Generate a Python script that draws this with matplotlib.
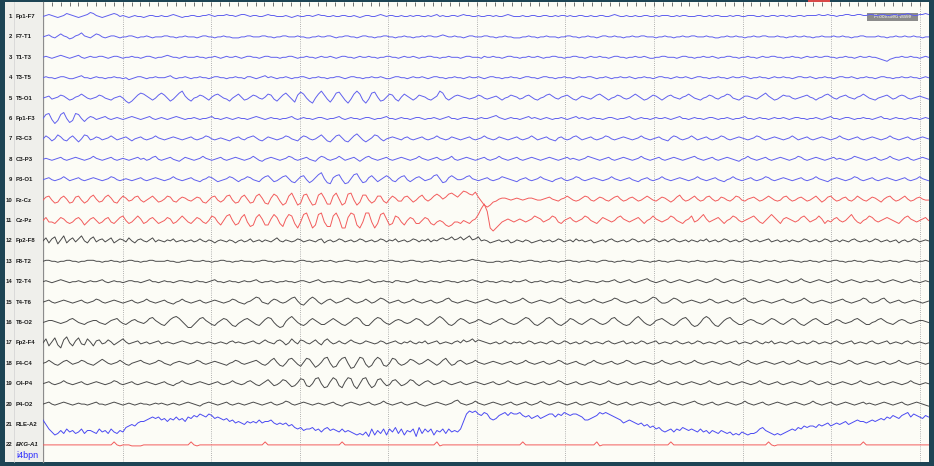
import numpy as np
import matplotlib.pyplot as plt
from matplotlib.patches import Rectangle

# one character = one sample (about 3 px apart over the 10 s page),
# 'm' is the channel baseline, each letter up/down = one unit (see gains)
# groups of 10 samples just to make the strings easier to read
fp1_f7 = ("mnonmlmnpo nmlmnoqpnm lmnopomnml mnmmlmnnmm nmmnonmlmm nnmmnnonmn nnonnmnoon mnnmmnonnm mmnmlmnmmn nmnonnmmnm "
          "mnnmmnmlmn nmmnonmnnm mnmmnmnnmm nmnomnmmnn mnonnmmnmm nnmnmmnonm mmnmmnnmmn nmmnmnnmnm mnnmmnmmnn mmnonmmnmm "
          "nmmnnmmnmn nnmmnmnnmm mnnmmnmnnm mmnmnnmmnn nmmnmmnnmn nmnmmnnmnn nnonnonnmn noonnoonno onnoonnoon ooponnoopo")
f7_t1 = ("mnomlnpnmk lnoqnmlnpo mlmnnmlmmn nmlmmnmlmm mnnmmlmmnm mmlmnnmmlm mnmmlllmmn nmmmnnmmlm mnnmmmnmml lmmnmmnnml "
         "mmnnmmlmnn mmlmmnnmml mmnmmlmmnm nnmmnonmmn mmlmnnmmmn nmmlmmnmml llmmnmmlmm nmmmlmmnnm mlmmnmmlmn nmmnmmlmmn "
         "mmnnmmmlmm nmmlmmnmmn nmmmnmmllm mnmmnmmlmm nmmnnmmmnm mlmmnmmnmm lmmnmmmnmm nmmlmmnnmm mmnmmlmmnm mnmmnmmlmm")
t1_t3 = ("mnmlmnonml mnomlmnmmn nmlmnnmlmm nmmlmnnmlm mnonmmlmnm mmnmmlmmnm lmnmmnmlmn nmmlmnnmmm lmmnnmlmmn mmlmnmmnml "
         "mnnmmlmnmm nmmlmmnnmm lmnmmnmlmm nnmmlmmnmm mlmnnmmmln mmnmmlmnnm mlmmnmmnml mmnnmmlmmn nmmlmnmmnm mlmnnmmlmm "
         "nmmnmllmmn nmmmlmnnmm lmmnmmnmlm mnnmmlmmnm mlmnmmnnmm lmmnmmlmnm mnmmnnmmlm mnmmlmnmmn mmlkjiklmm nmmnmmlmnm")
t3_t5 = ("mnmmlmnnml lmnommlmnm mlmmnmmlmk lmnnmlmmnm mmnomlmmnm lmmnmmlmnn mmlmmnmmln nmlmnomnml mmnmlmmnnm lmmnmmlmmn "
         "nmlmnnmmlm mnmmnmllmn nmmlmnmmnm lmnnmmlmmn mmlmnmmnml mnnmmlmmnm mlmnnmmlmn nmmlmmnmml mnmmnnmlmm nmlmmnmmnm "
         "lmmnmmlmnn mmlmnmmnml mnnmmlmmnm mlmnmmnnml mmnmmlmnmm nmmlmnnmmn mlmmnmmlmn nmmnmlmmnm mlmnnmmlmm nmmnmmlmnm")
t5_o1 = ("mnolmnpomk lnoqomlmnp omlkmnomjh jmprqomkmp rpmjlortol jmnpomknpq omljmoqnkl npomlnqplj mprolipsqm jhmqtplimr "
         "sokhlqtqkh lrsnjknqpl jnqomkmpon lkmotrmkmo ponmlmnpom lmnomkmnpo nlmopnlkmn pqomlnopnl kmonmlnpqo mkmnpomlmo "
         "qomklnpomk mopnmlnoqo mlkmnpomln oqpmlkmoon mlnpromkln poomlmnopn mkmnpqomln opnmlnoqom lkmnopnlmo pomlmnonml")
fp1_f3 = ("mqrlhkqsmi krqmjmonlm nomlmnmlmn onmlmnomlm nmlmnonmlm mnmlmmnomm lmnmlmnmml mnonmlmnmm lmmnomlmnm mlmnnmlmmn "
          "omlmnmmlmn nmlmmnomml mnmmlmnnml mmnmlmnomm lmnnmmlmnm mnopnmlmnm mlmnomnmlm nmlmmnmlmn omnmlmnmml mnnmlmmnom "
          "lmnmmlmnmm nmlmnommlm nmmlmnnmlm mnmlmmnomm lmnmmlmnmm nmlmnnmmlm mnmlmnomml mnnmlmmnmm lmnommlmnm mlmnmmlmnm")
f3_c3 = ("mpnkmqolkn pmjmqplmon lmnpnlmnom kmnomlmnpn mlmnonmlmn omlmnpomlm nmlkmnomln opnlkmonml mnpomlknpo mlmoqnkjmp "
         "qnkjmprolj lnqpmkmnon mlnomlmnom lmnpnmlmon mlmnomlmnp nmlmonmlmn omlmnpnlmn omlknomlmo pnlmnomlmn pomlmnonml "
         "mnpnmlmnom lknpomlmnp nlmnomlmnp omlmnonmlm npomlmnonm lmnpnlmnom lmnonmlmnp nmlmnomlmn onmlmnpnml mnomlmnonm")
c3_p3 = ("mnmlmnomlm nonmlmnpnm lmnomlmnml mnomnlmopm lmnomlkmon mlmnpnmlmn omlmnonmlm npnlkmnonm lmnpomlmno mlknpomlmn "
         "pnlmnomkmo pnmlmnomlm nonmlmnpnm lmnomlmnpm lmnonmlmno mlmnpnmlmn omlmnonmlm nonmlmnomn mlmnponmlm nomlmnonml "
         "mnpnmlmnom lmnonmlmno pnmlmnomlm nonmlkmnpn mlmnomlmno nmlmnpomlm nonmlmnomn mlmnponmlm nomlmnpnml mnomlmnonm")
p3_o1 = ("mnomlmnpnl mnomlmnonm lmnpomlmnm lmnomlmnon mlmnpnmlmn omlkmnpomk lmnpomkmnp omlknpqnkl npqnkjmpqm jlortnjioq "
         "rmijnrsnjk oqnkmoqolk npqmkmopnl mnqrnjkoqo mmnpqnmlmn omlmnponml kmnomlmnpn mlkmnomlmn pomlmnonml mnpnmlmnom "
         "lkmnomlmnp nmlmnonmlm npnmlmnoml kmnpnmlmno mlmnpomlmn onmlmnomlm npnmlkmnon mlmnpomlmn omlmnonmlm nomlmnpnml")
fz_cz = ("mpqmjkoqnj kpqmjlprnk lprokjnqol mpqmkmoqnk lnqplknpom lnpokjmpqm kmqrmjkprn jkqsojiosq lhjqtnhjrs mhirtoiiqt "
         "nhjstmhkrr mjlqqljnqo llpqnkmprn lnqsqnpstr psvusruplh fhklnoonmn onmnoonmmn opnmlnoqom lmoqpmlnpo mlnpqnlmop "
         "nlmoqomlnp omkmprnlmo qnlmpqnlmp omlnqpmlno pnlmoqomlm pqnlmopnlm oqnkmpqnlm opmlnqomln pomknpqnlm oqnlmopnmm")
cz_pz = ("mollkmonlk lnomjlnomk lnolkmopmk lnpnklnomk lmonklnpnl kmonlkmpol jmpqmjkoql ijoqnjjnqo kinqpkhlqr mhjqrliipr "
         "nhhorqjhlr rlhkqrnjkp oljmonkkmo nkjlmljijl lkmlkmnqux shfhjlmnml mnmlmnponl mnpolkmnom lmnpomlkmo nmlmopnmlm "
         "nomkmnpnml mnpomlkmnp lmoqnlmnom kmnpomlmno pnlkmoqomk nonmlmopnl mnpnkmlnom lmoqnlkmnp omlmnonmlk mopnmlmnom")
fp2_f8 = ("mpkoqjnrkn plormkoqln olnpkmonlp mknomlnpln mlnmolmnlm nlmomlnmkm nmlnmkmnlm olmnlnmlnp mlnmlmonlm nmlnokmnlm "
          "onlmnlmonl mnlmonlnmo lmnlmonlnm olnmopnoqn oqnprnoqmn mklmnlmnkl nmlnmklmnl mnlmonlmnl omnlmnklmn lnomlmnlmo "
          "nlmnlmonlm nlnomlmnln mlnmolmnlm onlmnlmonl mnlmnolmnl mnlnmlmonl mnlmonlmnl nmlnomlmnl monlmnlmnk mnlmonlmnm")
f8_t2 = ("mnnmmlmmnn mmlmmnnnmm lmmnmmlmmn nmmlmmnnmm mmnmmllmmn nmmmnmmlmm nnmmlmmnmm mlmmnnmmlm mnmmmlmnnm mlmmnmmnml "
         "mmnnmmlmmn mmlmnmmnnm mlmmnnmmlm mnmmlmmnmm nnmmnonnmm lllmmlmmnm mlmmnnmmlm mnmmlmmnnm mlmmnmmlmn nmmlmmnmml "
         "mnnmmlmmnm mlmmnnmmlm mnmmlmmnmm lmnnmmlmmn mmlmnmmnml mmnnmmlmmn mmlmnmmnnm mlmmnmmlmn nmmlmmnmml mnnmmlmmnm")
t2_t4 = ("mnmlmnonml mmnmlmnmmn omlmnmmlmn nmmlmnomml mnmmlmnnmm lmnmmlmnom mlmnmmlmnm mnomlmmnml mmnmmlmnnm lmnomlmmnm "
         "mlmnnmmlmn omlmmnmmln nmmlmnomml mnmmlmnnmm lmnmnonmlm nmmlmnmmln mmnomlmmnm lmnmmlmnom mlmnnmmlmn mmnomlmnom "
         "lmnopnmlmn omlmnonmlm nonmlmnpom lmnonmlmno nmlmnonmlm nomlmnpnml mnonmlmnom lmnonmlmnm mnomlmnonm lmnommlmnm")
t4_t6 = ("mnomlmnonm lmnomlmnpo mlmnonmlmn omlmnpnmlm nomlkmnpnm lmnomlmnon mlmnpomlkm nprqmlknpo mlmoqrnkjm prpmkmopnl "
         "mnpqomlmnp nlmoqpnlmn omlmnpnmlm nomlmnpqnm lmnonmlmno pnmlmnomlm noqomlmnon mlmnpqomlm nomlmnpnml mnoqpnmlmn "
         "omlmnprqnl lmoqpnlmno nmlmnpomlm nomlmnpqnm lmnonmlmno pnmlmnoqom lmnonmlmno pnmlmnoqpm lmnpqnlmno mlmnonmlmn")
t6_o2 = ("mnoonmlmnp qomlkmnoom lkmopqnlkm opnmlnqrom kjmprsqnkh hknqromkjm oqpmjilnpq omkjmprqmj hinqspmkjl oqomkkmoqo "
         "mkjlnqrplj jmprqnlkmo pomlmoqpnk jlnqsqnkjl oqpnlmnpom lkmnpqomlk lnprqnkjln qrpmkjlnqp nlkmoqpnlk lnqromkjkn "
         "qspmkjlopq omkjloqrok ijmqsqmjil oqromkkmop omlkmoqpnl kmoqpmkjln pqomkkmnpo mlmnpqomkk mnpqomlkmo pomlmnoonm")
fp2_f4 = ("mqjnrkhpsm jorlkqnjop lmpnkmoqnl mnolmnlmno lmnmlmnonm lmnmlmnmlm nmlnomnmlm nomlnpnmlo pnkmqnlpom lnpmkoqnlm "
          "omlnpnmlmo nmlmonlmno mlnmomlnmo lmnolmnmln ompnoqnpon mlmnlmomln mnlmonlmnm lnomlmonlm nlmonlmnml nomlmnolmn "
          "lmonlmnolm nmlnomlmnl monlmnmlno mlmnolmnml nomlnmolmn mlnomlmnlm onlmnmlnom lmnolmnmln omlmnolmnm lnomlmnmlm")
f4_c4 = ("mnpnlkmopn lmnpomlkmo qomlmnpnlk mnopnmlmnp omlkmnonml mnpomlmnon mlkmnpomlm nopnlkmprn kjmqroljnr qmiknrsmij "
         "orsmhinsrl ikpsqkjmrq mklnqpnlmo qomkmprnkl opnlmnpnml mnonmlmnom lmnpnmlmno mlmnpomlmn omlkmnpnml mnomlmnpom "
         "lmnonmlmnp nmlmnomlmn pnmlmnonml mnomlkmnpn mlmnonmlmn omlmnpnmlm nomlmnonml mnpomlmnon mlmnomlmnp nmlmnonmlm")
c4_p4 = ("mnomlmnpnm lmnomlmnon mlmnpomlmn omlmnonmlm nomlkmnpnm lmnonmlmno mlmnpnmlmo pnlkmoqnkl nqpmjknrqk jmrsmijosq "
         "kiosrkhmrs mikqrnklpq nklnqpmkmo pnlmnpomlm nomlmnonml mnomlmnpnm lmnonmlmno mlmnpomlmn omlmnonmlm npnmlmnoml "
         "mnonmlmnpn mlmnomlmno nmlmnpnmlm nomlmnonml mnpnmlmnom lmnonmlmnp omlmnomlmn onmlmnpnml mnomlmnonm lmnpnmlmnm")
p4_o2 = ("mnomlmnonm lmnmmlmnom mlmnonmlmn mlmnmmlmnm nmlmnmlmno nmlkmnonml mnomlmnmlm nonmlmnoml mnpomlmnon mlmnmlmnom "
         "lkmnonmlmn omlmnpnmlm nomlmnomlk lmnonmlmnp qnmlmnpnml mnonmlmnom lmnomlmnpn mlmnonmlmn omlmnonmlm npnmlmnoml "
         "mnonmlmnom lmnonmlmno pnmlmnomlm nonmlmnpnm lmnomlmnon mlmnonmlmn pnmlmnomlm nonmlmnomn mlmnonmlmn omlmnonmlk")
rle_a2 = ("pmjhfgigjh ighjgiihgj higjhgihkl mlnoopqrqr pqoqprpqor qsrtsrtsqr qpqopnonmo nonpnoopnm nmnlmkjkij jkijhjkiji "
          "hjhihgfgfh ejfigjfjhk gjfihjekgj hjfihjgjhi hjotvuvtsu tqpqstusut tusrsqrsqr sttrtsutst tsrppqrsut utsrqpnopo "
          "nmnlmkljki hijhjikjij ihjhigihgi hghfgfhgfg ghjkihgfgf ghijikjlkl lkmlmnlmnm nomnopoono popqprqsrq sturtsrqsr")
ekg_a1 = ("mmmmmmmmmm mmmmmmmmmm mmmmpmlmmm llllmmmmmm mmmmmmmmmm pmlmmmmmmm mmmmmmmmmm mmmmmpmmmm mmmmmmmmmm mmmmmmmmmm "
          "mpmmmmmmmm mmmmmmmmmm mmmmmmmmmm mmmplmmmmm mmmmmmmmmm mmmmmmmmmm mmpmmmmmmm mmmmmmmmmm mmmmmmmplm mmmmmmmmmm "
          "mmmmmmmmmm mmpmmmmmmm mmmmmmmmmm mmmmmmmmmm mmmmmpmlmm mmmmmmmmmm mmmmmmmmmm mmmmmmmpmm mmmmmmmmmm mmmmmmmmmm")

traces = [fp1_f7, f7_t1, t1_t3, t3_t5, t5_o1, fp1_f3, f3_c3, c3_p3, p3_o1, fz_cz, cz_pz,
          fp2_f8, f8_t2, t2_t4, t4_t6, t6_o2, fp2_f4, f4_c4, c4_p4, p4_o2, rle_a2, ekg_a1]
names = ['Fp1-F7', 'F7-T1', 'T1-T3', 'T3-T5', 'T5-O1', 'Fp1-F3', 'F3-C3', 'C3-P3', 'P3-O1', 'Fz-Cz', 'Cz-Pz',
         'Fp2-F8', 'F8-T2', 'T2-T4', 'T4-T6', 'T6-O2', 'Fp2-F4', 'F4-C4', 'C4-P4', 'P4-O2', 'RLE-A2', 'EKG-A1']
blue, red, black = '#6060ee', '#f25c5c', '#4a4a4a'
colors = [blue] * 9 + [red] * 2 + [black] * 9 + ['#4a4af2', red]
gains = [1.0] * 22
gains[10] = 1.5   # Cz-Pz
gains[20] = 1.5   # RLE-A2

page_start, page_len = 0.1, 10.0   # seconds


def decode(s):
    s = s.replace(' ', '')
    return np.array([ord(c) - ord('m') for c in s], dtype=float)


W, H = 934, 466
frame = '#1d4454'
fig = plt.figure(figsize=(W / 100, H / 100), dpi=100)
fig.patch.set_facecolor(frame)

# background / label panel, in pixel units
bg = fig.add_axes([0, 0, 1, 1])
bg.set_xlim(0, W)
bg.set_ylim(H, 0)
bg.axis('off')
bg.add_patch(Rectangle((5, 2), 37, 460, fc='#efefeb', ec='none'))
bg.add_patch(Rectangle((42, 2), 887, 460, fc='#fcfcf6', ec='none'))
bg.plot([13.5, 13.5], [2, 462], color='#d2d2d2', lw=0.5)
bg.plot([42.5, 42.5], [2, 462], color='#8c8c8c', lw=0.9)
bg.add_patch(Rectangle((808, 0), 22, 2, fc='#d84848', ec='none'))

# traces: x in seconds, y in pixels from top
ax = fig.add_axes([43 / W, (H - 462) / H, 885.5 / W, 460 / H])
ax.set_xlim(page_start, page_start + page_len)
ax.set_ylim(462, 2)
ax.axis('off')

for sec in range(1, 11):
    ax.axvline(sec, color='#9a9a9a', lw=0.6, ls=(0, (1, 1.6)))
ticks = np.arange(2, 101) / 10
ax.vlines(ticks, 2, 6, color='#5a5a5a', lw=0.6)

font = ['Liberation Sans', 'DejaVu Sans']
for i, (s, name) in enumerate(zip(traces, names)):
    base = 16.5 + 20.4 * i
    v = decode(s)
    t = np.linspace(page_start, page_start + page_len, len(v))
    ax.plot(t, base - gains[i] * v, color=colors[i], lw=0.7)
    style = 'italic' if name == 'EKG-A1' else 'normal'
    bg.text(12.5, base, str(i + 1), ha='right', va='center', fontsize=4.3, family=font,
            color='#1a1a1a', weight='bold')
    bg.text(16, base, name, ha='left', va='center', fontsize=4.3, family=font,
            color='#1a1a1a', style=style, weight='bold')

bg.text(16, 455.5, 'i4bpn', ha='left', va='center', fontsize=6.5, family=font, color='#2b2bff')

bg.add_patch(Rectangle((867, 12.5), 51, 8.5, fc='#8b8b8b', ec='none'))
bg.text(892.5, 16.9, 'Processed wave', ha='center', va='center', fontsize=3.6, family=font, color='#f2f2f2')

fig.savefig('out.png', dpi=100, facecolor=fig.get_facecolor())
